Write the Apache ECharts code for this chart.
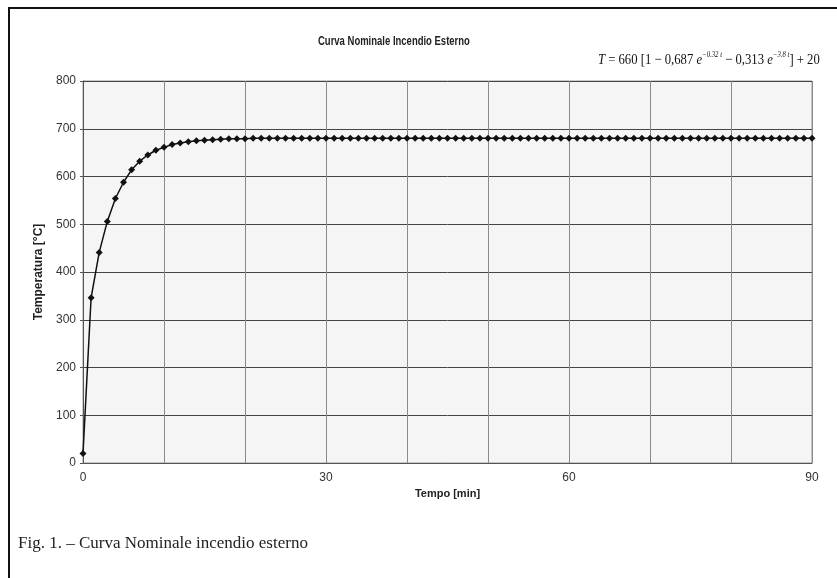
<!DOCTYPE html>
<html>
<head>
<meta charset="utf-8">
<script src="https://cdn.jsdelivr.net/npm/echarts@6/dist/echarts.min.js"></script>
<style>
  html, body { margin: 0; padding: 0; background: #fff; }
  #chart { width: 837px; height: 578px; }
</style>
</head>
<body>
<div id="chart"></div>
<script>
const timeMin = [
  0, 1, 2, 3, 4, 5, 6, 7, 8, 9, 10, 11, 12, 13, 14, 15, 16, 17, 18, 19,
  20, 21, 22, 23, 24, 25, 26, 27, 28, 29, 30, 31, 32, 33, 34, 35, 36, 37, 38, 39,
  40, 41, 42, 43, 44, 45, 46, 47, 48, 49, 50, 51, 52, 53, 54, 55, 56, 57, 58, 59,
  60, 61, 62, 63, 64, 65, 66, 67, 68, 69, 70, 71, 72, 73, 74, 75, 76, 77, 78, 79,
  80, 81, 82, 83, 84, 85, 86, 87, 88, 89, 90
];
const temperature = [
  20, 346, 441, 506, 554, 588, 614, 632, 645, 655, 661, 667, 670, 673, 675, 676, 677, 678, 679, 679,
  679, 680, 680, 680, 680, 680, 680, 680, 680, 680, 680, 680, 680, 680, 680, 680, 680, 680, 680, 680,
  680, 680, 680, 680, 680, 680, 680, 680, 680, 680, 680, 680, 680, 680, 680, 680, 680, 680, 680, 680,
  680, 680, 680, 680, 680, 680, 680, 680, 680, 680, 680, 680, 680, 680, 680, 680, 680, 680, 680, 680,
  680, 680, 680, 680, 680, 680, 680, 680, 680, 680, 680
];
const xLabelTicks = [0, 30, 60, 90];

const chart = echarts.init(document.getElementById('chart'));
const sans = 'Liberation Sans, Arial, sans-serif';
const serif = 'Liberation Serif, Times New Roman, serif';

chart.setOption({
  backgroundColor: '#fff',
  animation: false,
  grid: {
    left: 83,
    right: 25,
    top: 81,
    bottom: 115,
    show: true,
    backgroundColor: '#f5f5f5',
    borderColor: '#999',
    borderWidth: 1
  },
  xAxis: {
    type: 'value',
    min: 0,
    max: 90,
    interval: 10,
    name: 'Tempo [min]',
    nameLocation: 'middle',
    nameGap: 19,
    nameTextStyle: { fontFamily: sans, fontSize: 11, fontWeight: 'bold', color: '#222' },
    axisLine: { show: true, lineStyle: { color: '#555', width: 1 } },
    axisTick: { show: false },
    axisLabel: {
      margin: 9,
      fontFamily: sans,
      fontSize: 12,
      color: '#333',
      formatter: v => (xLabelTicks.includes(v) ? String(v) : '')
    },
    splitLine: { show: true, lineStyle: { color: '#8a8a8a', width: 1 } }
  },
  yAxis: {
    type: 'value',
    min: 0,
    max: 800,
    interval: 100,
    name: 'Temperatura [°C]',
    nameLocation: 'middle',
    nameGap: 32,
    nameTextStyle: { fontFamily: sans, fontSize: 12, fontWeight: 'bold', color: '#222' },
    axisLine: { show: true, lineStyle: { color: '#555', width: 1 } },
    axisTick: { show: true, length: 3, lineStyle: { color: '#555' } },
    axisLabel: { margin: 7, fontFamily: sans, fontSize: 12, color: '#333' },
    splitLine: { show: true, lineStyle: { color: '#444', width: 1 } }
  },
  series: [
    {
      type: 'line',
      data: timeMin.map((t, i) => [t, temperature[i]]),
      symbol: 'diamond',
      symbolSize: 7,
      itemStyle: { color: '#111' },
      lineStyle: { color: '#111', width: 1.5 }
    }
  ],
  graphic: [
    {
      type: 'polyline',
      shape: { points: [[9, 578], [9, 8], [837, 8]] },
      style: { stroke: '#111', lineWidth: 2, fill: null }
    },
    {
      // chart title, condensed like the scanned original
      type: 'text',
      x: 318,
      y: 35,
      scaleX: 0.73,
      style: {
        text: 'Curva Nominale Incendio Esterno',
        fontFamily: sans,
        fontSize: 13,
        fontWeight: 'bold',
        fill: '#222'
      }
    },
    {
      type: 'text',
      x: 598,
      y: 51,
      scaleX: 0.845,
      style: {
        text: '{it|T} = 660 [1 − 0,687 {it|e}{sup|−0.32 t} − 0,313 {it|e}{sup|−3.8 t}] + 20',
        fontFamily: serif,
        fontSize: 15,
        fill: '#111',
        rich: {
          it: { fontStyle: 'italic', fontFamily: serif, fontSize: 15, fill: '#111' },
          sup: { fontStyle: 'italic', fontFamily: serif, fontSize: 8, fill: '#111', padding: [0, 0, 11, 0] }
        }
      }
    },
    {
      type: 'text',
      left: 18,
      top: 535,
      style: {
        text: 'Fig. 1. – Curva Nominale incendio esterno',
        fontFamily: serif,
        fontSize: 17,
        fill: '#222'
      }
    }
  ]
});
</script>
</body>
</html>
